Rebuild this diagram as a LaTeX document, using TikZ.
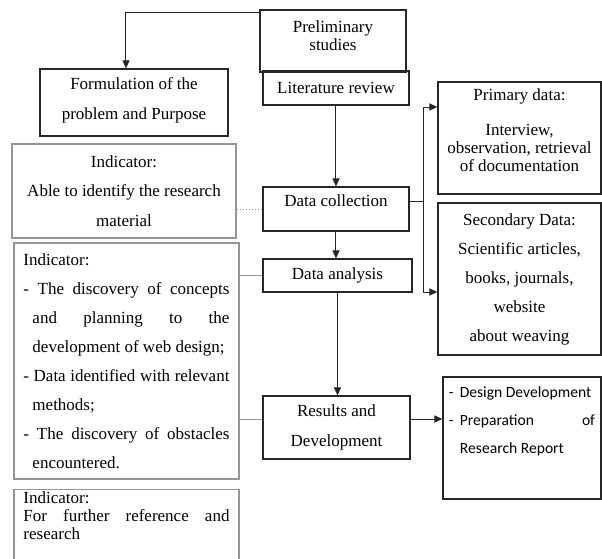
\documentclass[tikz,border=0pt]{standalone}
\usepackage{fontspec}
\setmainfont{Liberation Serif}
\newfontfamily\carlitofont{Carlito}
\usetikzlibrary{arrows.meta}
\definecolor{ResInk}{HTML}{262626}
\definecolor{ResGrey}{HTML}{959595}
\tikzset{
  resstage/.style={
    draw=ResInk,
    line width=.65pt,
    align=center,
    inner sep=2pt,
    font=\fontsize{8.5}{15}\selectfont
  },
  resnote/.style={
    resstage,
    draw=ResGrey,
    line width=.55pt
  },
  reslink/.style={draw=ResInk,line width=.5pt},
  resarrow/.style={reslink,-{Triangle[length=4pt,width=3.6pt]}},
  resthin/.style={draw=ResGrey,line width=.5pt}
}
\begin{document}
\begin{tikzpicture}[x=.5pt,y=-.5pt]
  \useasboundingbox (0,0) rectangle (602,559);
  % main steps
  \node[resstage,minimum width=73pt,minimum height=31pt,font=\fontsize{8.5}{9}\selectfont] (prelim) at (333,41) {Preliminary\\studies\rule[-5pt]{0pt}{0pt}};
  \node[resstage,minimum width=94pt,minimum height=33.5pt] (formul) at (134,102.5) {Formulation of the\\problem and Purpose\rule[-4pt]{0pt}{0pt}};
  \node[resstage,minimum width=73pt,minimum height=17pt] (lit) at (336,88) {Literature review};
  \node[resstage,minimum width=73pt,minimum height=22pt] (datacoll) at (336,209) {Data collection\rule[-8pt]{0pt}{0pt}};
  \node[resstage,minimum width=74.5pt,minimum height=16.5pt] (dataanal) at (337.5,275.5) {Data analysis};
  \node[resstage,minimum width=73.5pt,minimum height=31.5pt] (results) at (336.5,427.5) {Results and\\Development};
  % data sources and outputs
  \node[resstage,minimum width=81.5pt,minimum height=56pt,font=\fontsize{8.5}{9}\selectfont] (primary) at (519.5,138) {Primary data:\\[8.5pt]Interview,\\observation, retrieval\\of documentation\rule[-7.5pt]{0pt}{0pt}};
  \node[resstage,minimum width=81.5pt,minimum height=76pt,font=\fontsize{8.5}{14.5}\selectfont] (secondary) at (519.5,279) {Secondary Data:\\Scientific articles,\\books, journals,\\website\\about weaving};
  \node[resstage,minimum width=79pt,minimum height=61pt,text width=73pt,align=justify,font=\carlitofont\fontsize{7.8}{14}\selectfont] (final) at (522,438) {\hangindent=5.5pt\hangafter=1 -\hspace{3pt}Design Development\par
    \hangindent=5.5pt\hangafter=1 -\hspace{3pt}Preparation of\linebreak Research Report\rule[-18pt]{0pt}{0pt}\par};
  % indicators
  \node[resnote,minimum width=112pt,minimum height=47pt,font=\fontsize{8.5}{14.75}\selectfont] (ind1) at (124,191) {Indicator:\\Able to identify the research\\material};
  \node[resnote,minimum width=112.5pt,minimum height=118pt,text width=103pt,align=justify,font=\fontsize{8.5}{14.5}\selectfont] (ind2) at (126.5,361) {Indicator:\par
    \hangindent=4.5pt\hangafter=1 - The discovery of concepts\linebreak and planning to the\linebreak development of web design;\par
    \hangindent=4.5pt\hangafter=1 - Data identified with relevant\linebreak methods;\par
    \hangindent=4.5pt\hangafter=1 - The discovery of obstacles\linebreak encountered.\par};
  \node[resnote,minimum width=112.5pt,text width=103pt,inner ysep=1pt,align=justify,anchor=north,font=\fontsize{8.5}{9}\selectfont] (ind3) at (126.5,489) {Indicator:\par
    For further reference and\linebreak research\rule[-16pt]{0pt}{0pt}\par};
  % connectors
  \coordinate (prelimout) at ([yshift=-1.5pt]prelim.north west);
  \coordinate (collout) at ([yshift=4pt]datacoll.east);
  \coordinate (resout) at ([yshift=4.25pt]results.east);
  \coordinate (resin) at ([yshift=4.25pt]results.west);
  \draw[resarrow] (prelimout) -| ([xshift=-4pt]formul.north);
  \draw[resarrow] (lit) -- (datacoll);
  \draw[resarrow] (datacoll.south) -- (datacoll.south |- dataanal.north);
  \draw[resarrow] (dataanal.south) -- (dataanal.south |- results.north);
  \draw[reslink] (collout) -- ++(14,0) coordinate (split);
  \draw[resarrow] (split) |- ([yshift=15.5pt]primary.west);
  \draw[resarrow] (split) |- ([yshift=-6.5pt]secondary.west);
  \draw[resarrow] (resout) -- (resout -| final.west);
  \draw[resthin,densely dotted] (datacoll.west -| ind1.east) -- (datacoll.west);
  \draw[resthin] (dataanal.west -| ind2.east) -- (dataanal.west);
  \draw[resthin] (resin -| ind2.east) -- (resin);
\end{tikzpicture}
\end{document}
